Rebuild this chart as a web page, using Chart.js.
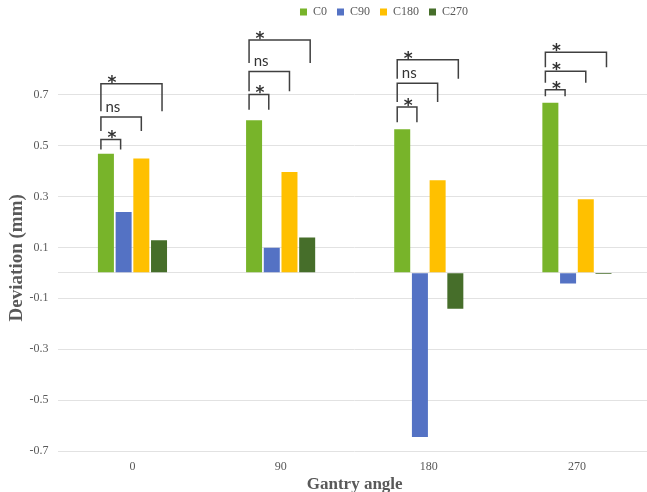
<!DOCTYPE html>
<html>
<head>
<meta charset="utf-8">
<script src="https://cdn.jsdelivr.net/npm/chart.js@4.4.1/dist/chart.umd.min.js"></script>
<style>
  html, body { margin: 0; padding: 0; background: #ffffff; overflow: hidden; }
  #wrap { position: relative; width: 700px; height: 492px; }
</style>
</head>
<body>
<div id="wrap"><canvas id="chart"></canvas></div>
<script>
// Gantry angles (categories) and the four collimator series
const angles = ['0', '90', '180', '270'];
const seriesNames = ['C0', 'C90', 'C180', 'C270'];
const c0Values   = [0.468, 0.599, 0.564, 0.668];
const c90Values  = [0.239, 0.098, -0.645, -0.042];
const c180Values = [0.449, 0.396, 0.364, 0.289];
const c270Values = [0.128, 0.139, -0.141, -0.005];
const seriesColors = ['#78B42A', '#5472C4', '#FFC000', '#466E2A'];

// Value axis ticks (0 only carries the baseline grid line)
const yTicks = [-0.7, -0.5, -0.3, -0.1, 0, 0.1, 0.3, 0.5, 0.7];

// Significance brackets per angle: C0 vs C90, C0 vs C180, C0 vs C270
const bracketPairs = [[0, 1], [0, 2], [0, 3]];
const sigLabels = [
  ['*', 'ns', '*'],
  ['*', 'ns', '*'],
  ['*', 'ns', '*'],
  ['*', '*', '*']
];
const bracketTops = [
  [0.524, 0.612, 0.743],
  [0.701, 0.791, 0.915],
  [0.651, 0.745, 0.837],
  [0.719, 0.792, 0.867]
];
const bracketFeet = [
  [0.484, 0.557, 0.635],
  [0.641, 0.713, 0.824],
  [0.592, 0.671, 0.762],
  [0.694, 0.747, 0.808]
];

const seriesValues = [c0Values, c90Values, c180Values, c270Values];
const axisGrey = '#595959';
const serif = "'Liberation Serif', 'Times New Roman', serif";

// Legend row: centred over the full figure width, tight to the top edge
const legendPlacement = {
  id: 'legendPlacement',
  afterLayout(chart) {
    const lg = chart.legend;
    if (!lg) return;
    const dx = 384 - (lg.left + lg.right) / 2;
    const dy = -4 - lg.top;
    lg.left += dx; lg.right += dx;
    lg.top += dy; lg.bottom += dy;
  }
};

// Comparison brackets with their significance marks
const sigBrackets = {
  id: 'sigBrackets',
  afterDraw(chart) {
    const ctx = chart.ctx;
    const y = chart.scales.y;
    ctx.save();
    ctx.strokeStyle = '#404040';
    ctx.lineWidth = 1.5;
    ctx.fillStyle = '#333333';
    ctx.textAlign = 'center';
    ctx.textBaseline = 'alphabetic';
    angles.forEach((_, g) => {
      bracketPairs.forEach(([a, b], k) => {
        const barA = chart.getDatasetMeta(a).data[g];
        const barB = chart.getDatasetMeta(b).data[g];
        const x1 = barA.x - barA.width / 2 + 3;
        const x2 = barB.x + (b - 2) * 3;
        const yTop = y.getPixelForValue(bracketTops[g][k]);
        const yFoot = y.getPixelForValue(bracketFeet[g][k]);
        ctx.beginPath();
        ctx.moveTo(x1, yFoot);
        ctx.lineTo(x1, yTop);
        ctx.lineTo(x2, yTop);
        ctx.lineTo(x2, yFoot);
        ctx.stroke();
        const label = sigLabels[g][k];
        if (label === '*') {
          ctx.font = "bold 17px 'DejaVu Sans', sans-serif";
          ctx.fillText(label, x1 + 11, yTop + 4);
        } else {
          ctx.font = "15px Lato, 'Open Sans', sans-serif";
          ctx.fillText(label, x1 + 12, yTop - 5);
        }
      });
    });
    ctx.restore();
  }
};

new Chart(document.getElementById('chart'), {
  type: 'bar',
  data: {
    labels: angles,
    datasets: seriesNames.map((name, i) => ({
      label: name,
      data: seriesValues[i],
      backgroundColor: seriesColors[i],
      borderWidth: 0,
      categoryPercentage: 0.478,
      barPercentage: 0.904
    }))
  },
  options: {
    responsive: true,
    maintainAspectRatio: false,
    animation: false,
    layout: { padding: { top: 32.6, right: 49, bottom: 0, left: 0 } },
    plugins: {
      legend: {
        position: 'top',
        labels: {
          boxWidth: 7,
          boxHeight: 7,
          padding: 10,
          color: axisGrey,
          font: { family: serif, size: 12 }
        }
      },
      tooltip: { enabled: false }
    },
    scales: {
      x: {
        grid: { display: false, drawTicks: false },
        border: { display: false },
        ticks: { color: axisGrey, padding: 9, font: { family: serif, size: 12 } },
        title: {
          display: true,
          text: 'Gantry angle',
          color: axisGrey,
          padding: { top: 0, bottom: -1 },
          font: { family: serif, size: 17, weight: 'bold', lineHeight: 1 }
        },
        afterFit(scale) { scale.height = 41; }
      },
      y: {
        min: -0.7,
        max: 0.818,
        afterBuildTicks(scale) {
          scale.ticks = yTicks.map(v => ({ value: v }));
        },
        grid: { color: '#e2e2e2', lineWidth: 1, drawTicks: false },
        border: { display: false },
        ticks: {
          color: axisGrey,
          padding: 10,
          font: { family: serif, size: 12 },
          callback: v => (v === 0 ? '' : v.toFixed(1))
        },
        title: {
          display: true,
          text: 'Deviation (mm)',
          color: axisGrey,
          padding: { top: 6, bottom: 0 },
          font: { family: serif, size: 19, weight: 'bold', lineHeight: 1.2 }
        },
        afterFit(scale) { scale.width = 58.4; }
      }
    }
  },
  plugins: [legendPlacement, sigBrackets]
});
</script>
</body>
</html>
